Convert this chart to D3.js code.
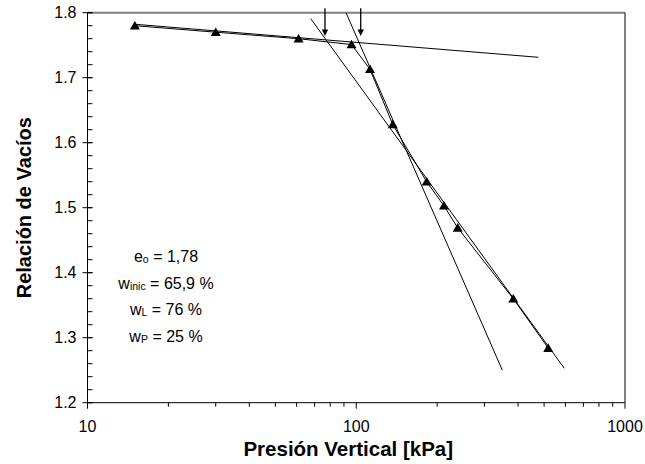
<!DOCTYPE html>
<html>
<head>
<meta charset="utf-8">
<script src="https://cdn.jsdelivr.net/npm/d3@7/dist/d3.min.js"></script>
<style>
  html, body { margin: 0; padding: 0; background: #fff; }
  svg { display: block; font-family: "Liberation Sans", Arial, sans-serif; }
</style>
</head>
<body>
<svg id="chart" width="645" height="464"></svg>
<script>
// ---- data ----
const pressure = [15, 30, 61, 96, 112.5, 136.7, 182.8, 212, 238.5, 384, 518];
const voidRatio = [1.780, 1.770, 1.760, 1.751, 1.713, 1.628, 1.540, 1.503, 1.469, 1.360, 1.284];

// construction lines [x1, y1, x2, y2]
const recompressionLine = [15, 1.7822, 475.8, 1.7314];
const virginLine = [67.7, 1.7908, 594.5, 1.2529];
const steepLine = [91.6, 1.800, 349.6, 1.250];

// arrows: pressure, top, tip
const arrowX = [76.5, 103.9];
const arrowTop = 1.807;
const arrowTip = 1.764;

const xMajorTicks = [10, 100, 1000];
const xMinorTicks = [20, 30, 40, 50, 60, 70, 80, 90, 200, 300, 400, 500, 600, 700, 800, 900];
const yMajorTicks = [1.2, 1.3, 1.4, 1.5, 1.6, 1.7, 1.8];
const yMinorTicks = d3.range(1.2, 1.8001, 0.02);

const notes = [
  { main: "e", sub: "o", rest: " = 1,78" },
  { main: "w", sub: "inic", rest: " = 65,9 %" },
  { main: "w", sub: "L", rest: " = 76 %" },
  { main: "w", sub: "P", rest: " = 25 %" }
];

// ---- layout ----
const svg = d3.select("#chart");
const L = 87.5, R = 625, T = 12.7, B = 402.7;
const x = d3.scaleLog().domain([10, 1000]).range([L, R]);
const y = d3.scaleLinear().domain([1.2, 1.8]).range([B, T]);

svg.append("rect").attr("width", 645).attr("height", 464).attr("fill", "#fff");

// plot border top (gray) & right (black)
svg.append("line").attr("x1", L).attr("x2", R).attr("y1", T).attr("y2", T)
  .attr("stroke", "#808080").attr("stroke-width", 2);
svg.append("line").attr("x1", R).attr("x2", R).attr("y1", T).attr("y2", B)
  .attr("stroke", "#000").attr("stroke-width", 1);

// Y axis
const gy = svg.append("g");
gy.append("line").attr("x1", L).attr("x2", L).attr("y1", T).attr("y2", B).attr("stroke", "#000");
gy.selectAll(".ymin").data(yMinorTicks).enter().append("line")
  .attr("x1", L).attr("x2", L + 5).attr("y1", d => y(d)).attr("y2", d => y(d)).attr("stroke", "#000");
gy.selectAll(".ymaj").data(yMajorTicks).enter().append("line")
  .attr("x1", L - 5).attr("x2", L + 5).attr("y1", d => y(d)).attr("y2", d => y(d)).attr("stroke", "#000");
gy.selectAll(".ylab").data(yMajorTicks).enter().append("text")
  .attr("x", L - 11).attr("y", d => y(d)).attr("dy", "0.35em")
  .attr("text-anchor", "end").attr("font-size", 16).text(d => d.toFixed(1));

// X axis
const gx = svg.append("g");
gx.append("line").attr("x1", L).attr("x2", R).attr("y1", B).attr("y2", B).attr("stroke", "#000");
gx.selectAll(".xmin").data(xMinorTicks).enter().append("line")
  .attr("x1", d => x(d)).attr("x2", d => x(d)).attr("y1", B).attr("y2", B + 4).attr("stroke", "#000");
gx.selectAll(".xmaj").data(xMajorTicks).enter().append("line")
  .attr("x1", d => x(d)).attr("x2", d => x(d)).attr("y1", B).attr("y2", B + 6).attr("stroke", "#000");
gx.selectAll(".xlab").data(xMajorTicks).enter().append("text")
  .attr("x", d => x(d)).attr("y", 432)
  .attr("text-anchor", "middle").attr("font-size", 16).text(d => d);

// axis titles
svg.append("text").attr("x", (L + R) / 2 - 8).attr("y", 456)
  .attr("text-anchor", "middle").attr("font-size", 20.5).attr("font-weight", "bold")
  .text("Presión Vertical [kPa]");
svg.append("text").attr("transform", `translate(31,${(T + B) / 2}) rotate(-90)`)
  .attr("text-anchor", "middle").attr("font-size", 20).attr("font-weight", "bold")
  .text("Relación de Vacíos");

// construction lines
[recompressionLine, virginLine, steepLine].forEach(l => {
  svg.append("line")
    .attr("x1", x(l[0])).attr("y1", y(l[1])).attr("x2", x(l[2])).attr("y2", y(l[3]))
    .attr("stroke", "#000").attr("stroke-width", 1);
});

// data line
const pts = pressure.map((p, i) => [p, voidRatio[i]]);
svg.append("path").datum(pts)
  .attr("d", d3.line().x(d => x(d[0])).y(d => y(d[1])))
  .attr("fill", "none").attr("stroke", "#000").attr("stroke-width", 1);

// markers
svg.selectAll(".mk").data(pts).enter().append("path")
  .attr("transform", d => `translate(${x(d[0])},${y(d[1])})`)
  .attr("d", "M0,-4.8L5,3.8L-5,3.8Z").attr("fill", "#000");

// arrows
arrowX.forEach(a => {
  const ax = x(a), y0 = y(arrowTop), y1 = y(arrowTip);
  svg.append("line").attr("x1", ax).attr("x2", ax).attr("y1", y0).attr("y2", y1 - 4)
    .attr("stroke", "#000").attr("stroke-width", 1.3);
  svg.append("path").attr("d", `M${ax - 3.2},${y1 - 6.5}L${ax + 3.2},${y1 - 6.5}L${ax},${y1}Z`).attr("fill", "#000");
});

// annotation
const noteX = 166, noteY0 = 262, noteStep = 26.5;
notes.forEach((n, i) => {
  const t = svg.append("text").attr("x", noteX).attr("y", noteY0 + i * noteStep)
    .attr("text-anchor", "middle").attr("font-size", 16);
  t.append("tspan").text(n.main);
  t.append("tspan").attr("font-size", 10.5).attr("dy", 1).text(n.sub);
  t.append("tspan").attr("dy", -1).text(n.rest);
});
</script>
</body>
</html>
